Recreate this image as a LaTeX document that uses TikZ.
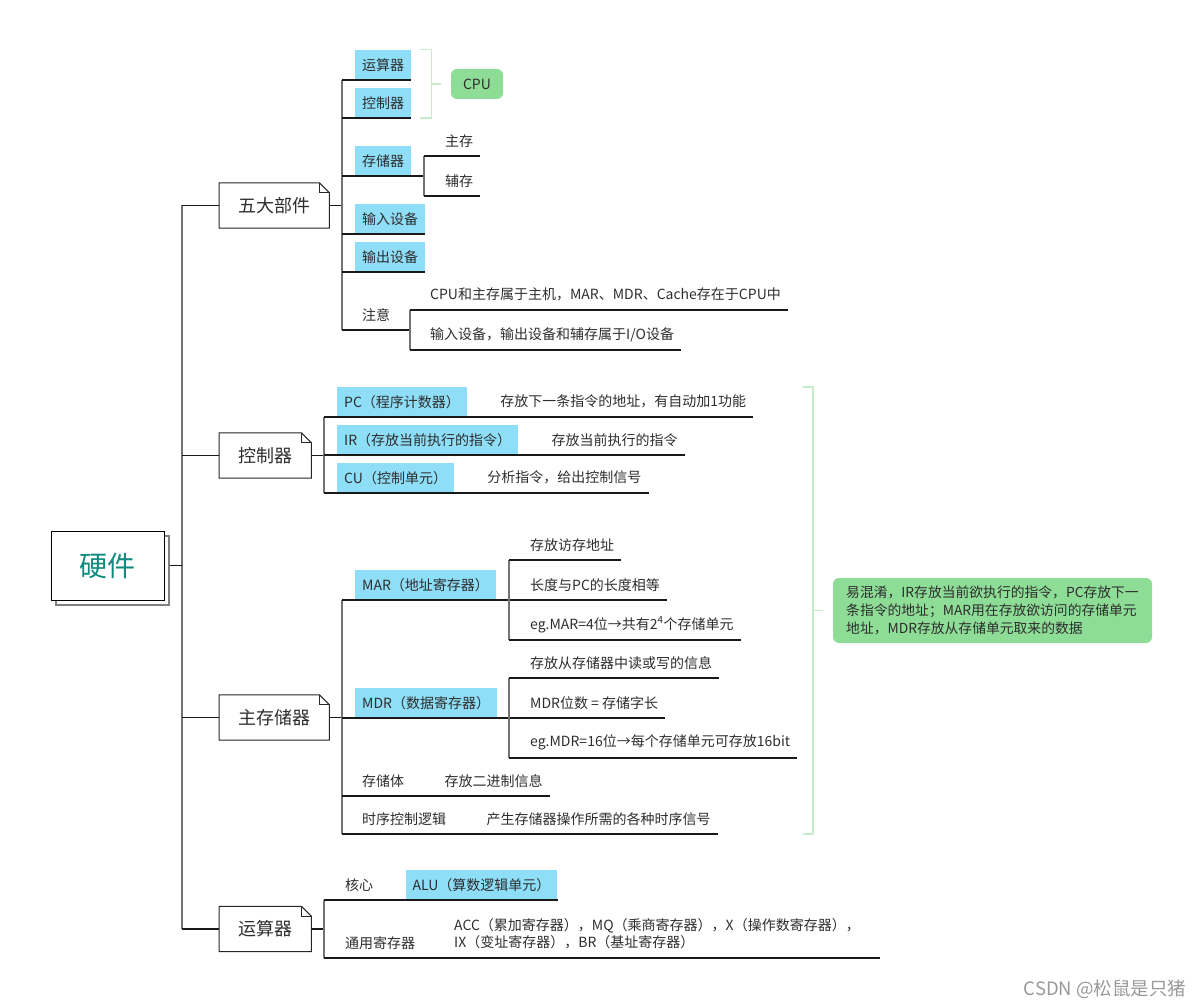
\documentclass[tikz,border=0pt]{standalone}
\usepackage{fontspec}
\setmainfont{Noto Sans CJK SC}
\usepackage{xcolor}
\usepackage{tikz}
\usetikzlibrary{positioning, shadows}
\definecolor{regblue}{RGB}{142, 222, 248}
\definecolor{notegreen}{RGB}{142, 221, 151}
\definecolor{bracegreen}{RGB}{196, 238, 201}
\definecolor{roottext}{RGB}{15, 138, 126}
\definecolor{txtgray}{RGB}{45, 45, 45}
\tikzstyle{rootbox} = [rectangle, draw=black, fill=white, line width=1pt, minimum width=113pt, minimum height=69pt, text=roottext, font=\fontsize{28}{32}\selectfont, copy shadow={shadow xshift=5pt, shadow yshift=-5pt, draw=black!50, fill=white, line width=1.6pt}]
\tikzstyle{topic} = [rectangle, anchor=west, minimum height=45pt, inner xsep=19pt, text=txtgray, font=\fontsize{18}{22}\selectfont]
\tikzstyle{reg} = [rectangle, anchor=south west, fill=regblue, minimum height=30pt, inner xsep=7pt, inner ysep=0pt, text=txtgray, font=\fontsize{14}{16}\selectfont]
\tikzstyle{leaf} = [reg, fill=none]
\tikzstyle{cpubox} = [rectangle, rounded corners=6pt, fill=notegreen, minimum width=52pt, minimum height=30pt, text=txtgray, font=\fontsize{14}{16}\selectfont]
\tikzstyle{notebox} = [rectangle, rounded corners=6pt, fill=notegreen, minimum width=319pt, minimum height=65pt, align=left, text=txtgray, font=\fontsize{13.8}{18}\selectfont]
\tikzstyle{boxline} = [line width=1pt, black!85]
\tikzstyle{hline} = [line width=1.2pt, black!90]
\tikzstyle{vline} = [line width=1.5pt, black!55]
\tikzstyle{bracket} = [line width=1.5pt, bracegreen]
\newcommand{\foldcorner}[1]{%
  \draw[boxline] (#1.south west) -- (#1.north west) -- ([xshift=-10pt]#1.north east) -- ([yshift=-10pt]#1.north east) -- (#1.south east) -- cycle;
  \draw[boxline] ([xshift=-10pt]#1.north east) |- ([yshift=-10pt]#1.north east);
}

\begin{document}
\begin{tikzpicture}[x=1pt, y=-1pt]
\useasboundingbox (0,0) rectangle (1203,1008);

% Root
\node[rootbox] (hw) at (107.5,565.5) {硬件};
\coordinate (t0) at (182,0);

% Level one topics
\node[topic] (parts) at (219,205.5) {五大部件};
\node[topic] (ctrl) at (219,455.5) {控制器};
\node[topic] (mem) at (219,717.5) {主存储器};
\node[topic] (arith) at (219,929) {运算器};
\foreach \t in {parts, ctrl, mem, arith} \foldcorner{\t};

% Trunk
\draw[vline] (t0 |- parts.west) -- (t0 |- arith.west);
\draw[hline] ([xshift=5pt]hw.east) -- (t0 |- hw.east);
\foreach \t in {parts, ctrl, mem, arith} \draw[hline] (t0 |- \t.west) -- (\t.west);

% Five parts
\coordinate (s1) at (342,0);
\coordinate (s2) at (424,0);
\coordinate (s3) at (410,0);
\node[reg] (ysq) at (355,80) {运算器};
\node[reg] (kzq) at (355,118) {控制器};
\node[reg] (ccq) at (355,176) {存储器};
\node[leaf] (zc) at (438,156) {主存};
\node[leaf] (fc) at (438,196) {辅存};
\node[reg] (srsb) at (355,234) {输入设备};
\node[reg] (scsb) at (355,272) {输出设备};
\node[leaf] (zy) at (355,330) {注意};
\node[leaf] (zy1) at (423,310) {CPU和主存属于主机，MAR、MDR、Cache存在于CPU中};
\node[leaf] (zy2) at (423,350) {输入设备，输出设备和辅存属于I/O设备};
\node[cpubox] (cpu) at (477,84) {CPU};

\draw[hline] (parts.east) -- (s1 |- parts.east);
\draw[vline] (s1 |- ysq.south) -- (s1 |- zy.south);
\foreach \n in {ysq, kzq, srsb, scsb} \draw[hline] (s1 |- \n.south) -- (\n.south east);
\draw[hline] (s1 |- ccq.south) -- (s2 |- ccq.south);
\draw[vline] (s2 |- zc.south) -- (s2 |- fc.south);
\foreach \n in {zc, fc} \draw[hline] (s2 |- \n.south) -- (\n.south east);
\draw[hline] (s1 |- zy.south) -- (s3 |- zy.south);
\draw[vline] (s3 |- zy1.south) -- (s3 |- zy2.south);
\foreach \n in {zy1, zy2} \draw[hline] (s3 |- \n.south) -- (\n.south east);

% CPU bracket
\draw[bracket] ([xshift=9pt]ysq.north east) -- ++(11,0) |- ([xshift=9pt]kzq.south east);
\draw[bracket] ([xshift=-20pt]cpu.west) -- ++(10,0);

% Controller
\coordinate (s4) at (324,0);
\node[reg] (pc) at (337,417) {PC（程序计数器）};
\node[leaf, right=26pt of pc] (pcd) {存放下一条指令的地址，有自动加1功能};
\node[reg] (ir) at (337,455) {IR（存放当前执行的指令）};
\node[leaf, right=26pt of ir] (ird) {存放当前执行的指令};
\node[reg] (cu) at (337,493) {CU（控制单元）};
\node[leaf, right=26pt of cu] (cud) {分析指令，给出控制信号};
\draw[hline] (ctrl.east) -- (s4 |- ctrl.east);
\draw[vline] (s4 |- pc.south) -- (s4 |- cu.south);
\foreach \n/\d in {pc/pcd, ir/ird, cu/cud} \draw[hline] (s4 |- \n.south) -- (\d.south east);

% Main memory
\coordinate (s5) at (342,0);
\coordinate (s6) at (509,0);
\node[reg] (mar) at (355,600) {MAR（地址寄存器）};
\node[leaf] (mar1) at (523,560) {存放访存地址};
\node[leaf] (mar2) at (523,600) {长度与PC的长度相等};
\node[leaf] (mar3) at (523,640) {eg.MAR=4位→共有2\textsuperscript{4}个存储单元};
\node[reg] (mdr) at (355,718) {MDR（数据寄存器）};
\node[leaf] (mdr1) at (523,678) {存放从存储器中读或写的信息};
\node[leaf] (mdr2) at (523,718) {MDR位数 = 存储字长};
\node[leaf] (mdr3) at (523,758) {eg.MDR=16位→每个存储单元可存放16bit};
\node[leaf] (cct) at (355,796) {存储体};
\node[leaf, right=26pt of cct] (cctd) {存放二进制信息};
\node[leaf] (sx) at (355,834) {时序控制逻辑};
\node[leaf, right=26pt of sx] (sxd) {产生存储器操作所需的各种时序信号};
\draw[hline] (mem.east) -- (s5 |- mem.east);
\draw[vline] (s5 |- mar.south) -- (s5 |- sx.south);
\foreach \n/\d in {mar/mar2, mdr/mdr2, cct/cctd, sx/sxd} \draw[hline] (s5 |- \n.south) -- (\d.south east);
\draw[vline] (s6 |- mar1.south) -- (s6 |- mar3.south);
\draw[vline] (s6 |- mdr1.south) -- (s6 |- mdr3.south);
\foreach \n in {mar1, mar3, mdr1, mdr3} \draw[hline] (s6 |- \n.south) -- (\n.south east);

% Summary note
\coordinate (bt) at (803,387);
\coordinate (bb) at (803,834);
\node[notebox] (note) at (992.5,610.5) {易混淆，IR存放当前欲执行的指令，PC存放下一\\条指令的地址；MAR用在存放欲访问的存储单元\\地址，MDR存放从存储单元取来的数据};
\draw[bracket] (bt) -- ++(10,0) |- (bb);
\draw[bracket] ([xshift=-10pt]note.west) -- ++(-10,0);

% ALU
\coordinate (s8) at (324,0);
\node[leaf] (hx) at (338,900) {核心};
\node[reg, right=25pt of hx] (alu) {ALU（算数逻辑单元）};
\node[leaf] (ty) at (338,958) {通用寄存器};
\node[leaf, align=left, text width=419pt, inner ysep=9pt, font=\fontsize{14}{17}\selectfont] (tyd) at (447,958) {ACC（累加寄存器），MQ（乘商寄存器），X（操作数寄存器），\\IX（变址寄存器），BR（基址寄存器）};
\draw[hline] (arith.east) -- (s8 |- arith.east);
\draw[vline] (s8 |- alu.south) -- (s8 |- tyd.south);
\draw[hline] (s8 |- alu.south) -- (alu.south east);
\draw[hline] (s8 |- tyd.south) -- (tyd.south east);

% Watermark
\node[anchor=east, text=black!40, font=\fontsize{18.5}{22}\selectfont] (wm) at (1190,989) {CSDN @松鼠是只猪};

\end{tikzpicture}
\end{document}
